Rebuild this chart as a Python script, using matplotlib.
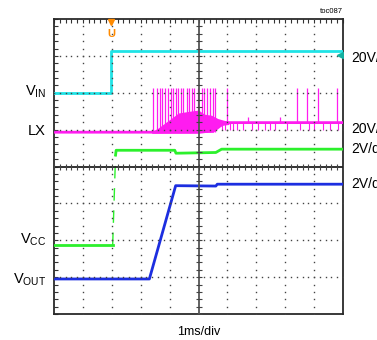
import numpy as np
import matplotlib
matplotlib.use('Agg')
import matplotlib.pyplot as plt

plt.rcParams['font.family'] = ['Liberation Sans', 'DejaVu Sans']
plt.rcParams['mathtext.fontset'] = 'custom'
plt.rcParams['mathtext.rm'] = 'Liberation Sans'

# all values in scope divisions: x = 1ms/div (0..10), y = divisions (0..8)
vin_t = [0, 1.98, 1.98, 10]
vin_v = [5.98, 5.98, 7.14, 7.14]

vcc_t = [0, 2.03, 2.13, 2.15, 4.18, 4.22, 5.6, 5.8, 10]
vcc_v = [1.87, 1.87, 4.31, 4.44, 4.44, 4.36, 4.38, 4.47, 4.47]

vout_t = [0, 3.3, 4.21, 5.6, 5.65, 10]
vout_v = [0.95, 0.95, 3.48, 3.47, 3.52, 3.52]

lx_t = [0, 3.38, 5.5, 5.9, 10]
lx_v = [4.93, 4.93, 4.95, 5.19, 5.19]

# switching burst envelope
burst_t = [3.38, 3.6, 3.84, 4.12, 4.3, 4.7, 5.0, 5.2, 5.45, 5.67, 5.85, 6.05]
burst_hi = [4.95, 5.04, 5.18, 5.34, 5.45, 5.5, 5.53, 5.42, 5.39, 5.3, 5.26, 5.22]
burst_lo = [4.9, 4.9, 4.9, 4.9, 4.9, 4.9, 4.9, 4.92, 4.97, 5.08, 5.12, 5.14]

# tall LX spikes
spike_t = [3.43, 3.56, 3.67, 3.74, 3.84, 3.94, 4.05, 4.12, 4.22, 4.29, 4.39,
           4.46, 4.6, 4.67, 4.78, 4.84, 4.98, 5.12, 5.19, 5.29, 5.4, 5.5,
           5.57, 5.99, 8.41, 8.75, 9.13, 9.79]
spike_top = 6.12
mid_spike_t = [6.71, 7.82]
mid_spike_top = 5.34
dip_t = [5.8, 5.92, 6.09, 6.21, 6.32, 6.55, 6.84, 7.07, 7.3, 7.48, 7.65,
         8.06, 8.52, 8.81, 8.98, 9.32, 9.55, 9.84]
dip_bottom = 4.99

CYAN = '#1fe3e6'
MAG = '#ff1cf0'
GREEN = '#2cf02c'
BLUE = '#1c2ee0'
GRID = '#444444'

fig = plt.figure(figsize=(3.77, 3.40), dpi=100)
ax = fig.add_axes([54 / 377, 26 / 340, 289 / 377, 295 / 340])
ax.set_xlim(0, 10)
ax.set_ylim(0, 8)

# dotted graticule
minor_x = np.arange(0, 10.001, 0.2)
minor_y = np.arange(0, 8.001, 0.2)
for gy in [1, 2, 3, 5, 6, 7]:
    ax.plot(minor_x, np.full_like(minor_x, gy), ls='none', marker='s',
            ms=1.0, mew=0, color=GRID, zorder=5)
for gx in [1, 2, 3, 4, 6, 7, 8, 9]:
    ax.plot(np.full_like(minor_y, gx), minor_y, ls='none', marker='s',
            ms=1.0, mew=0, color=GRID, zorder=5)

# traces
ax.plot(vin_t, vin_v, color=CYAN, lw=2.0, zorder=3)
ax.plot(9.9, 7.03, marker='<', ms=4, color='#14b0a0', zorder=6)

ax.fill_between(burst_t, burst_lo, burst_hi, color=MAG, lw=0, zorder=3)
ax.plot(lx_t, lx_v, color=MAG, lw=2.0, zorder=3)
ax.vlines(spike_t, [4.93 if t < 5.7 else 5.19 for t in spike_t], spike_top,
          color=MAG, lw=0.9, zorder=3)
ax.vlines(mid_spike_t, 5.19, mid_spike_top, color=MAG, lw=0.9, zorder=3)
ax.vlines(dip_t, dip_bottom, 5.19, color=MAG, lw=0.8, zorder=3)

ax.plot(vcc_t[:2], vcc_v[:2], color=GREEN, lw=2.0, zorder=3)
ax.plot(vcc_t[1:3], vcc_v[1:3], color=GREEN, lw=1.0, ls=(0, (9, 7)), zorder=3)
ax.plot(vcc_t[2:], vcc_v[2:], color=GREEN, lw=2.0, zorder=3)

ax.plot(vout_t, vout_v, color=BLUE, lw=2.0, zorder=3)

# center crosshair with ticks
ax.axvline(5, color='#555555', lw=1.3, zorder=7)
ax.axhline(4, color='#222222', lw=1.3, zorder=7)
ax.plot(np.full_like(minor_y, 5), minor_y, ls='none', marker='_', ms=4,
        mew=0.8, color='#444444', zorder=7)
ax.plot(minor_x, np.full_like(minor_x, 4), ls='none', marker='|', ms=4,
        mew=0.8, color='#444444', zorder=7)

# trigger marker
ax.plot(1.98, 7.93, marker='v', ms=4.5, color='#ff8a00', clip_on=False, zorder=8)
ax.text(1.98, 7.5, 'U', color='#ff8a00', fontsize=8, fontweight='bold',
        ha='center', va='baseline', zorder=8)

ax.set_xticks(minor_x)
ax.set_yticks(minor_y)
ax.tick_params(direction='in', length=3, width=0.8, color='#333333',
               top=True, bottom=False, left=True, right=False,
               labelbottom=False, labelleft=False)
for s in ax.spines.values():
    s.set_color('#2a2a2a')
    s.set_linewidth(1.3)

# channel labels
lab = dict(fontsize=10.5, ha='right', va='baseline', clip_on=False)
ax.text(-0.28, 5.93, r'$\mathrm{V_{IN}}$', **lab)
ax.text(-0.28, 4.85, 'LX', **lab)
ax.text(-0.28, 1.90, r'$\mathrm{V_{CC}}$', **lab)
ax.text(-0.28, 0.83, r'$\mathrm{V_{OUT}}$', **lab)

# scale labels run off the right edge, as in the original capture
sc = dict(fontsize=10, ha='left', va='baseline', clip_on=False)
ax.text(10.28, 6.84, '20V/div', **sc)
ax.text(10.28, 4.90, '20V/div', **sc)
ax.text(10.28, 4.36, '2V/div', **sc)
ax.text(10.28, 3.41, '2V/div', **sc)

ax.text(10, 8.16, 'toc087', fontsize=5.5, ha='right', va='baseline', clip_on=False)
ax.text(5, -0.57, '1ms/div', fontsize=9, ha='center', va='baseline', clip_on=False)

fig.savefig('out.png', dpi=100)
